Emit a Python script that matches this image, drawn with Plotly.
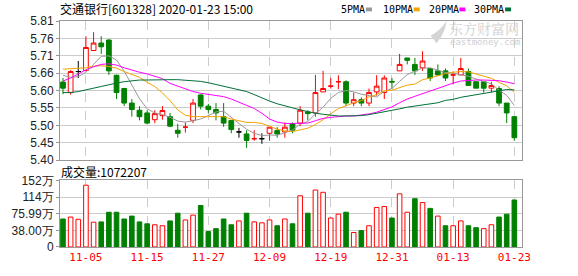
import plotly.graph_objects as go
import numpy as np

dates = ['10-31', '11-01', '11-04', '11-05', '11-06', '11-07', '11-08', '11-11', '11-12', '11-13',
         '11-14', '11-15', '11-18', '11-19', '11-20', '11-21', '11-22', '11-25', '11-26', '11-27',
         '11-28', '11-29', '12-02', '12-03', '12-04', '12-05', '12-06', '12-09', '12-10', '12-11',
         '12-12', '12-13', '12-16', '12-17', '12-18', '12-19', '12-20', '12-23', '12-24', '12-25',
         '12-26', '12-27', '12-30', '12-31', '01-02', '01-03', '01-06', '01-07', '01-08', '01-09',
         '01-10', '01-13', '01-14', '01-15', '01-16', '01-17', '01-20', '01-21', '01-22', '01-23']

open_ = [5.630, 5.599, 5.661, 5.664, 5.723, 5.745, 5.754, 5.650, 5.611, 5.568,
         5.547, 5.539, 5.519, 5.531, 5.528, 5.488, 5.497, 5.517, 5.592, 5.559,
         5.549, 5.528, 5.517, 5.483, 5.477, 5.463, 5.463, 5.479, 5.487, 5.483,
         5.507, 5.509, 5.542, 5.539, 5.601, 5.618, 5.631, 5.631, 5.568, 5.578,
         5.568, 5.601, 5.599, 5.632, 5.663, 5.701, 5.682, 5.672, 5.670, 5.663,
         5.663, 5.651, 5.651, 5.661, 5.631, 5.631, 5.612, 5.611, 5.568, 5.528]
high = [5.642, 5.665, 5.692, 5.765, 5.777, 5.765, 5.756, 5.652, 5.613, 5.580,
        5.559, 5.547, 5.547, 5.559, 5.539, 5.507, 5.511, 5.580, 5.594, 5.566,
        5.568, 5.568, 5.517, 5.495, 5.488, 5.488, 5.479, 5.497, 5.497, 5.511,
        5.511, 5.559, 5.547, 5.651, 5.663, 5.642, 5.650, 5.635, 5.599, 5.585,
        5.611, 5.650, 5.650, 5.642, 5.713, 5.701, 5.701, 5.721, 5.670, 5.682,
        5.670, 5.661, 5.701, 5.670, 5.631, 5.631, 5.631, 5.618, 5.568, 5.528]
low = [5.594, 5.593, 5.642, 5.661, 5.723, 5.713, 5.651, 5.580, 5.559, 5.528,
       5.517, 5.505, 5.509, 5.519, 5.497, 5.466, 5.481, 5.509, 5.549, 5.539,
       5.517, 5.498, 5.479, 5.466, 5.436, 5.457, 5.448, 5.457, 5.466, 5.466,
       5.479, 5.500, 5.517, 5.528, 5.601, 5.611, 5.609, 5.559, 5.559, 5.559,
       5.559, 5.590, 5.580, 5.609, 5.663, 5.682, 5.651, 5.663, 5.633, 5.650,
       5.633, 5.623, 5.651, 5.620, 5.612, 5.599, 5.599, 5.559, 5.509, 5.457]
close = [5.612, 5.661, 5.661, 5.732, 5.745, 5.734, 5.663, 5.599, 5.568, 5.549,
         5.528, 5.509, 5.537, 5.546, 5.500, 5.479, 5.497, 5.568, 5.559, 5.549,
         5.539, 5.509, 5.490, 5.483, 5.458, 5.463, 5.463, 5.497, 5.477, 5.497,
         5.488, 5.547, 5.537, 5.599, 5.611, 5.618, 5.631, 5.568, 5.578, 5.568,
         5.599, 5.618, 5.642, 5.630, 5.682, 5.694, 5.663, 5.692, 5.642, 5.651,
         5.642, 5.651, 5.670, 5.620, 5.612, 5.612, 5.620, 5.568, 5.539, 5.466]
# r = up (hollow red), g = down (green), k = flat doji (black)
candle_color = ['g', 'r', 'k', 'r', 'r', 'g', 'g', 'g', 'g', 'g',
                'g', 'g', 'r', 'r', 'g', 'g', 'r', 'r', 'g', 'g',
                'g', 'g', 'g', 'k', 'g', 'r', 'k', 'r', 'g', 'r',
                'g', 'r', 'g', 'r', 'r', 'r', 'r', 'g', 'r', 'g',
                'r', 'r', 'r', 'g', 'r', 'g', 'g', 'r', 'g', 'g',
                'g', 'r', 'r', 'g', 'g', 'g', 'r', 'g', 'g', 'g']

volume = [639000, 683000, 632000, 1410000, 565000, 573000, 793000, 793000, 639000, 705000,
          573000, 529000, 507000, 485000, 595000, 771000, 617000, 727000, 947000, 352000,
          419000, 639000, 507000, 595000, 771000, 573000, 551000, 617000, 485000, 639000,
          529000, 1168000, 771000, 1300000, 1248000, 661000, 749000, 793000, 330000, 374000,
          485000, 903000, 925000, 661000, 1212000, 793000, 1101000, 1013000, 881000, 705000,
          485000, 485000, 595000, 485000, 441000, 419000, 507000, 683000, 749000, 1072207]
volume_color = ['g', 'r', 'r', 'r', 'r', 'g', 'g', 'g', 'g', 'g',
                'g', 'g', 'r', 'r', 'g', 'g', 'r', 'r', 'g', 'g',
                'g', 'g', 'g', 'r', 'g', 'r', 'r', 'r', 'g', 'r',
                'g', 'r', 'g', 'r', 'r', 'r', 'r', 'g', 'r', 'g',
                'r', 'r', 'r', 'g', 'r', 'r', 'g', 'r', 'g', 'r',
                'g', 'r', 'r', 'g', 'g', 'r', 'r', 'g', 'g', 'g']

ma5 = [5.650, 5.644, 5.646, 5.659, 5.682, 5.706, 5.707, 5.695, 5.662, 5.623,
       5.581, 5.551, 5.539, 5.534, 5.526, 5.515, 5.512, 5.516, 5.521, 5.531,
       5.542, 5.544, 5.525, 5.508, 5.491, 5.479, 5.472, 5.474, 5.473, 5.481,
       5.489, 5.505, 5.514, 5.536, 5.556, 5.582, 5.599, 5.605, 5.601, 5.594,
       5.589, 5.586, 5.603, 5.611, 5.632, 5.652, 5.662, 5.671, 5.672, 5.666,
       5.658, 5.656, 5.651, 5.647, 5.639, 5.633, 5.625, 5.606, 5.591, 5.561]
ma10 = [5.668, 5.670, 5.670, 5.672, 5.677, 5.678, 5.676, 5.671, 5.661, 5.653,
        5.644, 5.629, 5.617, 5.598, 5.575, 5.548, 5.532, 5.528, 5.528, 5.529,
        5.529, 5.528, 5.521, 5.515, 5.511, 5.511, 5.508, 5.500, 5.491, 5.486,
        5.484, 5.489, 5.494, 5.505, 5.519, 5.536, 5.552, 5.560, 5.569, 5.575,
        5.586, 5.593, 5.604, 5.606, 5.613, 5.621, 5.624, 5.637, 5.642, 5.649,
        5.655, 5.659, 5.661, 5.660, 5.653, 5.646, 5.641, 5.629, 5.619, 5.600]
ma20 = [5.633, 5.642, 5.654, 5.666, 5.675, 5.682, 5.684, 5.680, 5.672, 5.665,
        5.659, 5.654, 5.647, 5.640, 5.626, 5.618, 5.612, 5.602, 5.597, 5.593,
        5.590, 5.587, 5.580, 5.570, 5.560, 5.552, 5.538, 5.521, 5.512, 5.508,
        5.508, 5.508, 5.509, 5.516, 5.523, 5.526, 5.529, 5.530, 5.530, 5.532,
        5.536, 5.541, 5.549, 5.557, 5.569, 5.580, 5.588, 5.596, 5.604, 5.612,
        5.620, 5.627, 5.633, 5.635, 5.636, 5.636, 5.636, 5.634, 5.630, 5.625]
ma30 = [5.599, 5.599, 5.602, 5.606, 5.612, 5.617, 5.623, 5.627, 5.631, 5.634,
        5.636, 5.636, 5.637, 5.637, 5.637, 5.637, 5.636, 5.634, 5.632, 5.628,
        5.623, 5.618, 5.614, 5.609, 5.602, 5.593, 5.583, 5.574, 5.566, 5.559,
        5.554, 5.548, 5.542, 5.538, 5.535, 5.532, 5.530, 5.530, 5.530, 5.531,
        5.534, 5.538, 5.541, 5.547, 5.551, 5.556, 5.559, 5.562, 5.565, 5.569,
        5.576, 5.579, 5.585, 5.589, 5.593, 5.597, 5.602, 5.605, 5.608, 5.607]

price_tick_text = ['5.40', '5.45', '5.50', '5.55', '5.60', '5.66', '5.71', '5.76', '5.81']
price_min, price_max = 5.40, 5.81
vol_tick_vals = [0, 380000, 759900, 1140000, 1520000]
vol_tick_text = ['0', '38.00万', '75.99万', '114万', '152万']
date_ticks = ['11-05', '11-15', '11-27', '12-09', '12-19', '12-31', '01-13', '01-23']
ma_names = ['5PMA', '10PMA', '20PMA', '30PMA']
ma_colors = ['#999999', '#f5a300', '#ff00ff', '#00703a']
title_text = '交通银行[601328] 2020-01-23 15:00'
vol_title = '成交量:' + str(volume[-1])

RED = '#ff0000'
GREEN = '#008000'

fig = go.Figure()

styles = {'r': (RED, '#ffffff'), 'g': (GREEN, GREEN), 'k': ('#000000', '#000000')}
for c, (lc, fc) in styles.items():
    idx = [i for i, cc in enumerate(candle_color) if cc == c]
    fig.add_trace(go.Candlestick(
        x=[dates[i] for i in idx], open=[open_[i] for i in idx], high=[high[i] for i in idx],
        low=[low[i] for i in idx], close=[close[i] for i in idx],
        increasing=dict(line=dict(color=lc, width=1), fillcolor=fc),
        decreasing=dict(line=dict(color=lc, width=1), fillcolor=fc),
        whiskerwidth=0, showlegend=False, hoverinfo='skip', xaxis='x', yaxis='y'))

for ma, col in zip([ma5, ma10, ma20, ma30], ma_colors):
    fig.add_trace(go.Scatter(x=dates, y=ma, mode='lines', line=dict(color=col, width=1),
                             showlegend=False, hoverinfo='skip', xaxis='x', yaxis='y'))

for c, (lc, fc) in [('r', (RED, '#ffffff')), ('g', (GREEN, GREEN))]:
    idx = [i for i, cc in enumerate(volume_color) if cc == c]
    fig.add_trace(go.Bar(x=[dates[i] for i in idx], y=[volume[i] for i in idx], width=0.6,
                         marker=dict(color=fc, line=dict(color=lc, width=1)),
                         showlegend=False, hoverinfo='skip', xaxis='x2', yaxis='y2'))

W, H = 578, 276
L, R, T, B = 57, 56, 21, 21
ph = H - T - B
def py(y):
    return (H - B - y) / ph
def px(x):
    return (x - L) / (W - L - R)

xcommon = dict(type='category', categoryorder='array', categoryarray=dates,
               range=[-0.39, 60.0], tickvals=date_ticks, ticktext=date_ticks,
               showgrid=True, gridcolor='#cccccc', griddash='dash', gridwidth=1,
               showline=True, mirror=True, linecolor='#999999', linewidth=1,
               ticks='', zeroline=False, fixedrange=True,
               rangeslider=dict(visible=False))

fig.update_layout(
    width=W, height=H, margin=dict(l=L, r=R, t=T, b=B),
    paper_bgcolor='white', plot_bgcolor='white',
    boxgap=0.38, boxgroupgap=0, barmode='overlay',
    xaxis=dict(xcommon, domain=[0, 1], anchor='y', showticklabels=False),
    xaxis2=dict(xcommon, domain=[0, 1], anchor='y2', showticklabels=True,
                tickfont=dict(family='DejaVu Sans Mono', size=11, color=RED)),
    yaxis=dict(domain=[py(165), 1], range=[price_min, price_max],
               tickvals=list(np.linspace(price_min, price_max, len(price_tick_text))),
               ticktext=price_tick_text, showgrid=True, gridcolor='#cccccc',
               showline=True, mirror=True, linecolor='#999999', ticks='outside',
               ticklen=3, tickcolor='#999999', zeroline=False,
               tickfont=dict(family='Liberation Sans', size=12, color='#222222')),
    yaxis2=dict(domain=[0, py(186)], range=[0, vol_tick_vals[-1]], tickvals=vol_tick_vals,
                ticktext=vol_tick_text, showgrid=True, gridcolor='#cccccc',
                showline=True, mirror=True, linecolor='#999999', ticks='outside',
                ticklen=3, tickcolor='#999999', zeroline=False,
                tickfont=dict(family='Liberation Sans', size=12, color='#222222')),
    font=dict(family='Noto Sans CJK SC', size=12, color='#000000'),
)

ann = []
ann.append(dict(text=title_text, x=px(55), y=py(8.5), xref='paper', yref='paper',
                xanchor='left', yanchor='middle', showarrow=False,
                font=dict(family='Noto Sans CJK SC', size=12, color='#000')))
ann.append(dict(text=vol_title, x=px(56), y=py(177), xref='paper', yref='paper',
                xanchor='left', yanchor='middle', showarrow=False,
                font=dict(family='Noto Sans CJK SC', size=12, color='#000')))
legend_x = [338, 380, 426, 472]
swatch_x = [365, 413, 459, 505]
for name, col, lx, sx in zip(ma_names, ma_colors, legend_x, swatch_x):
    ann.append(dict(text=name, x=px(lx), y=py(8.7), xref='paper', yref='paper',
                    xanchor='left', yanchor='middle', showarrow=False,
                    font=dict(family='DejaVu Sans Mono', size=10, color='#000')))
    fig.add_shape(type='rect', xref='paper', yref='paper', x0=px(sx), x1=px(sx + 6),
                  y0=py(11), y1=py(7), fillcolor=col, line=dict(width=0))
# watermark
ann.append(dict(text='东方财富网', x=px(521), y=py(28), xref='paper', yref='paper',
                xanchor='right', yanchor='middle', showarrow=False,
                font=dict(family='Noto Serif CJK SC, Noto Sans CJK SC', size=14, color='#cfcfcf')))
ann.append(dict(text='eastmoney.com', x=px(522), y=py(42.5), xref='paper', yref='paper',
                xanchor='right', yanchor='middle', showarrow=False,
                font=dict(family='DejaVu Sans Mono', size=9, color='#cfcfcf')))
fig.add_shape(type='path', xref='paper', yref='paper',
              path=f'M {px(430)} {py(36)} Q {px(440)} {py(31)} {px(446)} {py(21)} '
                   f'Q {px(445)} {py(33)} {px(436)} {py(44)} Z',
              fillcolor='#d4d4d4', line=dict(width=0))
fig.update_layout(annotations=ann)

fig.write_html('out.html')
